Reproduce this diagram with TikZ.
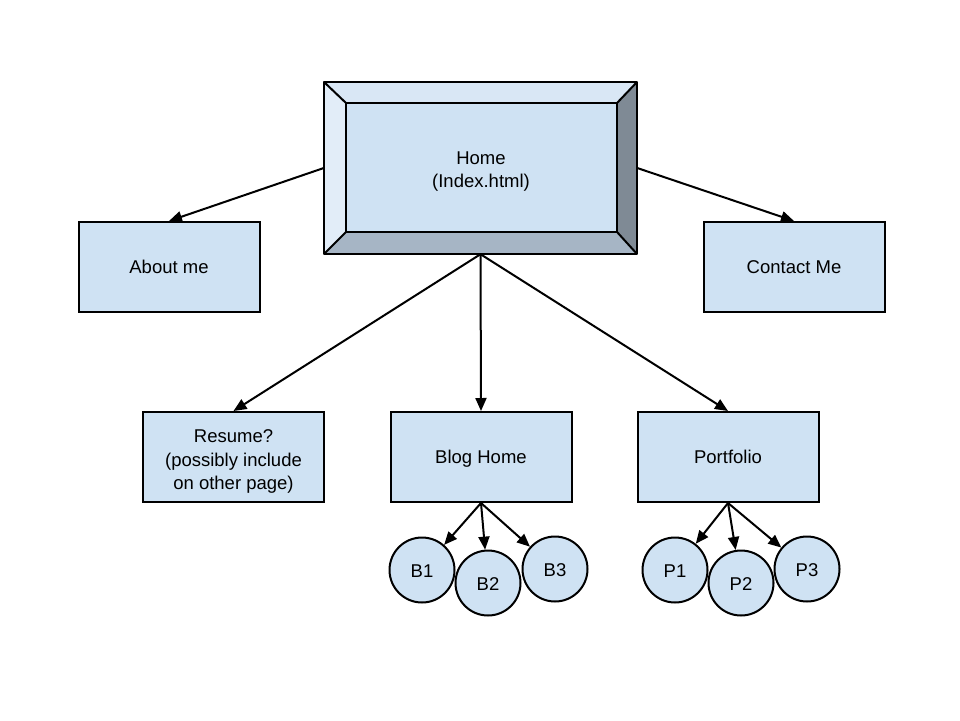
\documentclass[tikz,border=0pt]{standalone}
\usepackage{fontspec}
\setmainfont{Liberation Sans}
\usetikzlibrary{arrows.meta,calc}
\definecolor{boxfill}{HTML}{CFE2F3}
\definecolor{bevtop}{HTML}{D9E7F5}
\definecolor{bevleft}{HTML}{E2EDF8}
\definecolor{bevright}{HTML}{7F8A95}
\definecolor{bevbottom}{HTML}{A6B5C5}
\begin{document}
\begin{tikzpicture}[x=1pt,y=-1pt,
  every node/.style={font=\fontsize{18.5}{23.5}\selectfont},
  pagebox/.style={draw=black,line width=2pt,fill=boxfill,rectangle,minimum width=181pt,minimum height=90pt,inner sep=0pt},
  boxtext/.style={text height=13.3pt,text depth=3.9pt,yshift=-2pt},
  multitext/.style={align=center,yshift=-4.5pt},
  subpage/.style={draw=black,line width=2pt,fill=boxfill,circle,minimum size=65pt,inner sep=0pt,text height=15pt,text depth=0pt},
  conn/.style={line width=2pt,-{Stealth[length=13pt,width=11pt,inset=0pt]}},
  bev/.style={draw=black,line width=2pt,line join=round}]
\useasboundingbox[fill=white] (0,0) rectangle (960,720);
% Home bevel box
\node[minimum width=313pt,minimum height=172pt,inner sep=0pt] (home) at (480.5,168) {};
\coordinate (ihnw) at ($(home.north west)+(22,21)$);
\coordinate (ihne) at ($(home.north east)+(-20,21)$);
\coordinate (ihse) at ($(home.south east)+(-20,-22)$);
\coordinate (ihsw) at ($(home.south west)+(22,-22)$);
\fill[bevtop] (home.north west) -- (home.north east) -- (ihne) -- (ihnw) -- cycle;
\fill[bevleft] (home.north west) -- (ihnw) -- (ihsw) -- (home.south west) -- cycle;
\fill[bevright] (home.north east) -- (home.south east) -- (ihse) -- (ihne) -- cycle;
\fill[bevbottom] (home.south west) -- (ihsw) -- (ihse) -- (home.south east) -- cycle;
\fill[boxfill] (ihnw) rectangle (ihse);
\draw[bev] (home.north west) rectangle (home.south east);
\draw[bev] (ihnw) rectangle (ihse);
\draw[bev] (home.north west) -- (ihnw) (home.north east) -- (ihne) (home.south east) -- (ihse) (home.south west) -- (ihsw);
\node[align=center] (hometext) at (481,171.5) {Home\\(Index.html)};
% Page boxes
\node[pagebox,label={[boxtext]center:About me}] (about) at (169,267) {};
\node[pagebox,label={[boxtext]center:Contact Me}] (contact) at (794,267) {};
\node[pagebox,label={[multitext]center:Resume?\\(possibly include\\on other page)}] (resume) at (233.5,457) {};
\node[pagebox,label={[boxtext]center:Blog Home}] (blog) at (481,457) {};
\node[pagebox,label={[boxtext]center:Portfolio}] (portfolio) at (728,457) {};
% Sub pages
\node[subpage] (b1) at (422,570) {B1};
\node[subpage] (b2) at (488,583) {B2};
\node[subpage] (b3) at (555,569) {B3};
\node[subpage] (p1) at (675,570) {P1};
\node[subpage] (p2) at (741,583) {P2};
\node[subpage] (p3) at (807,569) {P3};
% Connectors
\draw[conn] (home.west) -- (about.north);
\draw[conn] (home.east) -- (contact.north);
\draw[conn] (home.south) -- (resume.north);
\draw[conn] (home.south) -- (blog.north);
\draw[conn] (home.south) -- (portfolio.north);
\draw[conn] (blog.south) -- (b1);
\draw[conn] (blog.south) -- (b2);
\draw[conn] (blog.south) -- (b3);
\draw[conn] (portfolio.south) -- (p1);
\draw[conn] (portfolio.south) -- (p2);
\draw[conn] (portfolio.south) -- (p3);
\end{tikzpicture}
\end{document}
